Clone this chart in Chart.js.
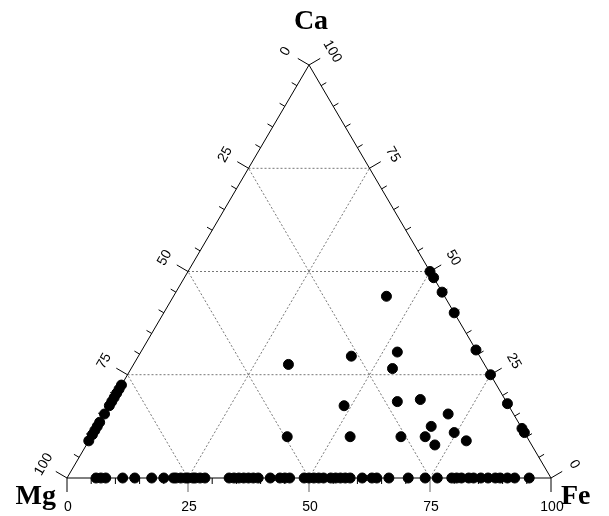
<!DOCTYPE html>
<html>
<head>
<meta charset="utf-8">
<script src="https://cdn.jsdelivr.net/npm/chart.js@4.4.0/dist/chart.umd.min.js"></script>
<style>
  body { margin: 0; background: #fff; }
  #box { width: 609px; height: 516px; }
</style>
</head>
<body>
<div id="box"><canvas id="grafico"></canvas></div>
<script>
// vertici del triangolo
var vertici = ['Ca', 'Mg', 'Fe'];

// etichette assi (valori a Ca = 0, 25, 50, 75, 100 / Fe = 0..100)
var etichetteSinistra = ['100', '75', '50', '25', '0'];   // Mg
var etichetteDestra = ['0', '25', '50', '75', '100'];      // Ca
var etichetteBase = ['0', '25', '50', '75', '100'];        // Fe
var lineeGriglia = [25, 50, 75];

// punti sul lato di base (Ca = 0): valore di Fe
var feBase = [6, 7, 8, 11.5, 14, 17.5, 20, 22, 22.5, 23.5, 24.5, 25, 26, 26.5, 27.5, 28.5,
  33.5, 34.5, 35.5, 36.5, 37.5, 38.5, 39.5, 42, 44, 45, 46, 49, 50, 51, 52, 53, 54.5, 55.5,
  56.5, 57.5, 58.5, 61, 63, 64, 66.5, 70.5, 74, 76.5, 79.5, 80.5, 81.5, 83, 84, 85.5, 87,
  88.5, 89.5, 91, 92.5, 95.5];
// punti sul lato Mg-Ca (Fe = 0): valore di Ca
var caSinistro = [9, 10.5, 11.5, 12.5, 13.5, 15.5, 17.5, 18.5, 19.5, 20.5, 21.5, 22.5];
// punti sul lato Ca-Fe (Mg = 0): valore di Ca
var caDestro = [50, 48.5, 45, 40, 31, 25, 18, 12, 11];
// punti interni
var caInterni = [44, 30.5, 26.5, 18.5, 19, 15.5, 12.5, 10, 10, 11, 8, 9, 10, 10, 27.5, 29.5, 17.5];
var feInterni = [44, 53, 54, 59, 63.5, 71, 69, 64, 69, 74.5, 72, 78, 40.5, 53.5, 32, 44, 48.5];

// da composizione (Ca, Fe) a coordinate cartesiane del grafico
function punto(ca, fe) {
    return { x: fe + ca / 2, y: ca };
}

var dati = [];
for (var i = 0; i < feBase.length; i++) {
    dati.push(punto(0, feBase[i]));
}
for (var i = 0; i < caSinistro.length; i++) {
    dati.push(punto(caSinistro[i], 0));
}
for (var i = 0; i < caDestro.length; i++) {
    dati.push(punto(caDestro[i], 100 - caDestro[i]));
}
for (var i = 0; i < caInterni.length; i++) {
    dati.push(punto(caInterni[i], feInterni[i]));
}

function px(chart, ca, fe) {
    var p = punto(ca, fe);
    return { x: chart.scales.x.getPixelForValue(p.x), y: chart.scales.y.getPixelForValue(p.y) };
}

function linea(ctx, a, b) {
    ctx.beginPath();
    ctx.moveTo(a.x, a.y);
    ctx.lineTo(b.x, b.y);
    ctx.stroke();
}

var pluginTernario = {
    id: 'ternario',
    beforeDatasetsDraw: function (chart) {
        var ctx = chart.ctx;
        ctx.save();
        // griglia tratteggiata
        ctx.strokeStyle = '#555';
        ctx.lineWidth = 0.8;
        ctx.setLineDash([2, 2]);
        lineeGriglia.forEach(function (k) {
            linea(ctx, px(chart, k, 0), px(chart, k, 100 - k));
            linea(ctx, px(chart, 0, k), px(chart, 100 - k, k));
            linea(ctx, px(chart, 0, 100 - k), px(chart, 100 - k, 0));
        });
        ctx.setLineDash([]);

        // lati
        var mg = px(chart, 0, 0), fe = px(chart, 0, 100), ca = px(chart, 100, 0);
        ctx.strokeStyle = '#000';
        ctx.lineWidth = 1;
        ctx.beginPath();
        ctx.moveTo(mg.x, mg.y);
        ctx.lineTo(fe.x, fe.y);
        ctx.lineTo(ca.x, ca.y);
        ctx.closePath();
        ctx.stroke();

        // normali verso l'esterno
        var dx = ca.x - mg.x, dy = ca.y - mg.y, l = Math.sqrt(dx * dx + dy * dy);
        var nSin = { x: dy / l, y: -dx / l };
        var nDes = { x: -dy / l, y: -dx / l };
        if (nSin.x > 0) { nSin.x = -nSin.x; }

        for (var v = 0; v <= 100; v += 5) {
            var lung = (v % 25 === 0) ? 13 : 6;
            var a = px(chart, v, 0);
            ctx.strokeStyle = '#000';
            linea(ctx, a, { x: a.x + nSin.x * lung, y: a.y + nSin.y * lung });
            var b = px(chart, v, 100 - v);
            linea(ctx, b, { x: b.x + nDes.x * lung, y: b.y + nDes.y * lung });
            var c = px(chart, 0, v);
            ctx.strokeStyle = (v % 25 === 0 && v > 0 && v < 100) ? '#999' : '#000';
            ctx.lineWidth = (v % 25 === 0 && v > 0 && v < 100) ? 1.5 : 1;
            linea(ctx, c, { x: c.x, y: c.y + (v % 25 === 0 ? 14 : 6) });
            ctx.lineWidth = 1;
        }

        // etichette numeriche
        ctx.fillStyle = '#000';
        ctx.font = '14px Arial, "Liberation Sans", sans-serif';
        ctx.textAlign = 'center';
        ctx.textBaseline = 'middle';
        for (var j = 0; j < 5; j++) {
            var val = j * 25;
            var s = px(chart, val, 0);
            ctx.save();
            ctx.translate(s.x + nSin.x * 27, s.y + nSin.y * 27);
            ctx.rotate(-Math.PI / 3);
            ctx.fillText(etichetteSinistra[j], 0, 0);
            ctx.restore();
            var d = px(chart, val, 100 - val);
            ctx.save();
            ctx.translate(d.x + nDes.x * 27, d.y + nDes.y * 27);
            ctx.rotate(Math.PI / 3);
            ctx.fillText(etichetteDestra[j], 0, 0);
            ctx.restore();
            var bb = px(chart, 0, val);
            ctx.fillText(etichetteBase[j], bb.x + 1, bb.y + 29);
        }

        // nomi dei vertici
        ctx.font = 'bold 28px "Times New Roman", "Liberation Serif", serif';
        ctx.fillText(vertici[0], ca.x + 2, 22);
        ctx.textAlign = 'right';
        ctx.fillText(vertici[1], mg.x - 11, mg.y + 19);
        ctx.textAlign = 'left';
        ctx.fillText(vertici[2], fe.x + 10, fe.y + 19);
        ctx.restore();
    }
};

var grafico = new Chart(document.getElementById('grafico'), {
    type: 'scatter',
    data: {
        datasets: [{
            data: dati,
            backgroundColor: '#000',
            borderColor: '#000',
            pointRadius: 5,
            pointHoverRadius: 5,
            clip: false
        }]
    },
    options: {
        responsive: true,
        maintainAspectRatio: false,
        animation: false,
        layout: { padding: { left: 67, right: 58, top: 65, bottom: 38 } },
        scales: {
            x: { type: 'linear', min: 0, max: 100, display: false },
            y: { type: 'linear', min: 0, max: 100, display: false }
        },
        plugins: {
            legend: { display: false },
            tooltip: { enabled: false }
        }
    },
    plugins: [pluginTernario]
});
</script>
</body>
</html>
